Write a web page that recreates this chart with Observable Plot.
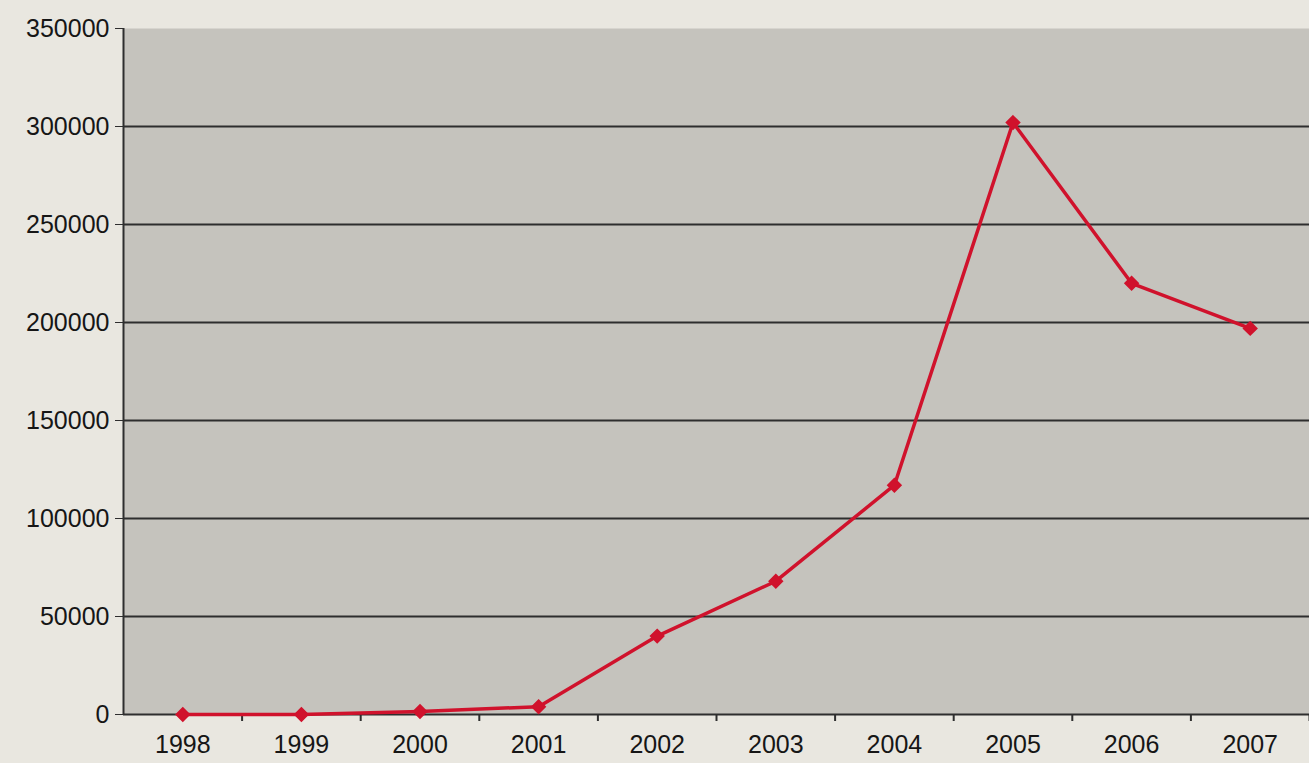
<!DOCTYPE html>
<html>
<head>
<meta charset="utf-8">
<script src="https://cdn.jsdelivr.net/npm/d3@7"></script>
<script src="https://cdn.jsdelivr.net/npm/@observablehq/plot@0.6"></script>
<style>
  html, body { margin: 0; padding: 0; background: #e9e7e0; overflow: hidden; }
  #chart svg { display: block; }
</style>
</head>
<body>
<div id="chart"></div>
<script>
const years = [1998, 1999, 2000, 2001, 2002, 2003, 2004, 2005, 2006, 2007];
const values = [0, 0, 1500, 4000, 40000, 68000, 117000, 302000, 220000, 197000];
const yTicks = [0, 50000, 100000, 150000, 200000, 250000, 300000, 350000];

const data = years.map((year, i) => ({year, value: values[i]}));
const boundaries = years.map(y => y + 0.5);
const gridTicks = yTicks.filter(v => v > 0 && v < 350000);

const chart = Plot.plot({
  width: 1309,
  height: 763,
  marginLeft: 123,
  marginRight: 0,
  marginTop: 28,
  marginBottom: 49,
  style: {background: "transparent", fontFamily: "Liberation Sans, Arial, sans-serif", fontSize: "25px", color: "#161616"},
  x: {type: "linear", domain: [1997.5, 2007.5], axis: null},
  y: {type: "linear", domain: [0, 350000], axis: null},
  marks: [
    Plot.frame({fill: "#c5c3bd", stroke: null}),
    Plot.ruleY(gridTicks, {stroke: "#2e2e2e", strokeWidth: 2}),
    Plot.ruleY([0], {stroke: "#2e2e2e", strokeWidth: 2}),
    Plot.ruleX([1997.5], {stroke: "#2e2e2e", strokeWidth: 2}),
    Plot.axisX({ticks: boundaries, tickFormat: () => "", tickSize: 7, stroke: "#2e2e2e", strokeWidth: 2, label: null}),
    Plot.axisY({ticks: yTicks, tickFormat: d => String(d), tickSize: 8, tickPadding: 6, stroke: "#2e2e2e", fontSize: 25, label: null}),
    Plot.axisX({ticks: years, tickFormat: d => String(d), tickSize: 0, tickPadding: 21, fontSize: 25, label: null}),
    Plot.line(data, {x: "year", y: "value", stroke: "#d0122c", strokeWidth: 3.5}),
    Plot.dot(data, {x: "year", y: "value", symbol: "diamond2", r: 6, fill: "#d0122c", stroke: "#d0122c"})
  ]
});
document.getElementById("chart").append(chart);
</script>
</body>
</html>
